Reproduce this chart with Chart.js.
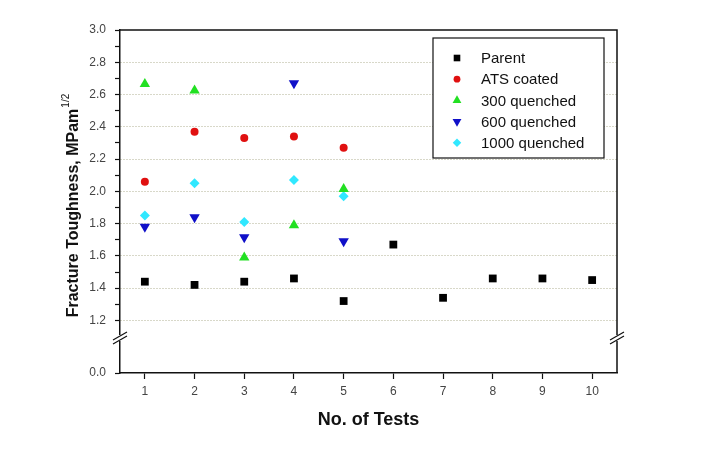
<!DOCTYPE html>
<html>
<head>
<meta charset="utf-8">
<script src="https://cdn.jsdelivr.net/npm/chart.js@4.4.1/dist/chart.umd.min.js"></script>
<style>
  html, body { margin: 0; padding: 0; background: #fff; }
</style>
</head>
<body>
<canvas id="toughness_chart" width="712" height="455"></canvas>
<script>
const testNumbers = [1, 2, 3, 4, 5, 6, 7, 8, 9, 10];
const parentValues = [1.44, 1.42, 1.44, 1.46, 1.32, 1.67, 1.34, 1.46, 1.46, 1.45];
const atsCoatedValues = [2.06, 2.37, 2.33, 2.34, 2.27];
const quenched300Values = [2.665, 2.625, 1.59, 1.79, 2.015];
const quenched600Values = [1.78, 1.84, 1.715, 2.67, 1.69];
const quenched1000Values = [1.85, 2.05, 1.81, 2.07, 1.97];
const yMajorTicks = [1.2, 1.4, 1.6, 1.8, 2.0, 2.2, 2.4, 2.6, 2.8, 3.0];
const yBreakValue = 0.874; // bottom of the broken axis, labelled 0.0

const seriesStyle = {
  "Parent": ["#000000", "rect", 0, 5.5],
  "ATS coated": ["#e01010", "circle", 0, 4],
  "300 quenched": ["#22e022", "triangle", 0, 6],
  "600 quenched": ["#1010c8", "triangle", 180, 6],
  "1000 quenched": ["#30e8ff", "rectRot", 0, 5]
};

function make_dataset(label, values) {
  const style = seriesStyle[label];
  return {
    label: label,
    data: values.map((v, i) => ({ x: testNumbers[i], y: v })),
    backgroundColor: style[0],
    borderWidth: 0,
    pointStyle: style[1],
    pointRotation: style[2],
    pointRadius: style[3]
  };
}

const gridColour = "rgba(150,150,110,0.75)";

const decorPlugin = {
  id: "decor",
  afterDraw(chart) {
    const ctx = chart.ctx;
    const area = chart.chartArea;
    ctx.save();
    // top and right frame
    ctx.strokeStyle = "#111";
    ctx.lineWidth = 1.5;
    ctx.beginPath();
    ctx.moveTo(area.left, area.top);
    ctx.lineTo(area.right, area.top);
    ctx.lineTo(area.right, area.bottom);
    ctx.stroke();

    // axis breaks
    const yBreak = 338;
    [area.left, area.right].forEach(x => {
      ctx.fillStyle = "#fff";
      ctx.fillRect(x - 2, yBreak - 3, 4, 6);
      ctx.strokeStyle = "#111";
      ctx.lineWidth = 1.2;
      ctx.beginPath();
      ctx.moveTo(x - 7, yBreak + 2); ctx.lineTo(x + 7, yBreak - 6);
      ctx.moveTo(x - 7, yBreak + 6); ctx.lineTo(x + 7, yBreak - 2);
      ctx.stroke();
    });

    // legend
    const box = { left: 433, top: 38, right: 604, bottom: 158 };
    ctx.fillStyle = "#fff";
    ctx.fillRect(box.left, box.top, box.right - box.left, box.bottom - box.top);
    ctx.strokeStyle = "#111";
    ctx.lineWidth = 1.2;
    ctx.strokeRect(box.left, box.top, box.right - box.left, box.bottom - box.top);
    ctx.font = "15px Arial, 'Liberation Sans', sans-serif";
    ctx.textBaseline = "middle";
    ctx.textAlign = "left";
    chart.data.datasets.forEach((ds, i) => {
      const y = 58 + i * 21.2;
      ctx.fillStyle = ds.backgroundColor;
      Chart.helpers.drawPoint(ctx, {
        pointStyle: ds.pointStyle,
        rotation: ds.pointRotation,
        radius: ds.pointRadius * 0.85,
        borderWidth: 0
      }, 457, y);
      ctx.fillStyle = "#111";
      ctx.fillText(ds.label, 481, y + 1);
    });

    // axis titles
    ctx.fillStyle = "#111";
    ctx.font = "bold 18px Arial, 'Liberation Sans', sans-serif";
    ctx.textAlign = "center";
    ctx.textBaseline = "alphabetic";
    ctx.fillText("No. of Tests", (area.left + area.right) / 2, 425);

    ctx.translate(78, 213);
    ctx.rotate(-Math.PI / 2);
    ctx.font = "bold 16px Arial, 'Liberation Sans', sans-serif";
    const mainText = "Fracture Toughness, MPam";
    const w = ctx.measureText(mainText).width;
    ctx.fillText(mainText, 0, 0);
    ctx.font = "10px Arial, 'Liberation Sans', sans-serif";
    ctx.textAlign = "left";
    ctx.fillText("1/2", w / 2 + 1, -9);
    ctx.restore();
  }
};

const chart = new Chart(document.getElementById("toughness_chart"), {
  type: "scatter",
  data: {
    datasets: [
      make_dataset("Parent", parentValues),
      make_dataset("ATS coated", atsCoatedValues),
      make_dataset("300 quenched", quenched300Values),
      make_dataset("600 quenched", quenched600Values),
      make_dataset("1000 quenched", quenched1000Values)
    ]
  },
  options: {
    responsive: false,
    animation: false,
    events: [],
    devicePixelRatio: 1,
    layout: { padding: { top: 30, right: 95, left: 0, bottom: 0 } },
    plugins: { legend: { display: false }, tooltip: { enabled: false } },
    scales: {
      x: {
        type: "linear",
        min: 0.5,
        max: 10.5,
        afterBuildTicks: scale => { scale.ticks = testNumbers.map(v => ({ value: v })); },
        afterFit: scale => { scale.height = 82; },
        grid: { drawOnChartArea: false, tickLength: 6, tickColor: "#111", tickWidth: 1.2 },
        border: { color: "#111", width: 1.5 },
        ticks: { color: "#444", font: { family: "Arial", size: 12 }, padding: 5, maxRotation: 0 }
      },
      y: {
        type: "linear",
        min: yBreakValue,
        max: 3.0,
        afterBuildTicks: scale => {
          const ticks = [{ value: yBreakValue }];
          yMajorTicks.forEach((v, i) => {
            ticks.push({ value: v });
            if (i < yMajorTicks.length - 1) ticks.push({ value: v + 0.1 });
          });
          scale.ticks = ticks;
        },
        afterFit: scale => { scale.width = 120; },
        grid: {
          color: c => {
            const v = Math.round(c.tick.value * 10) / 10;
            return (yMajorTicks.includes(v) && v < 3.0 && c.tick.value > 1) ? gridColour : "rgba(0,0,0,0)";
          },
          tickColor: "#111",
          tickLength: 5,
          tickWidth: 1.2
        },
        border: { color: "#111", width: 1.5, dash: [1, 2] },
        ticks: {
          color: "#444",
          font: { family: "Arial", size: 12 },
          padding: 9,
          autoSkip: false,
          callback: value => {
            if (value < 1) return "0.0";
            const v = Math.round(value * 10) / 10;
            return yMajorTicks.includes(v) ? v.toFixed(1) : "";
          }
        }
      }
    }
  },
  plugins: [decorPlugin]
});
</script>
</body>
</html>
